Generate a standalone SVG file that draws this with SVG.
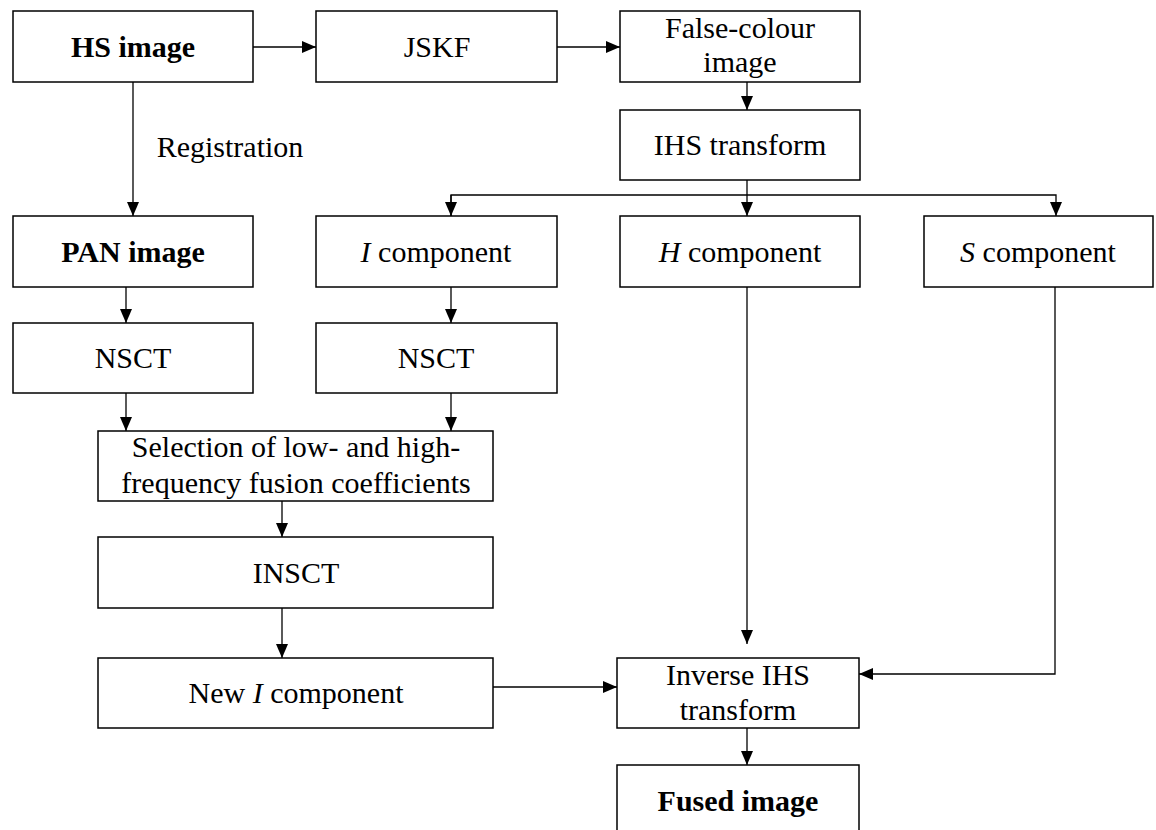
<svg xmlns="http://www.w3.org/2000/svg" width="1156" height="830" viewBox="0 0 1156 830">
<defs>
<marker id="ah" markerWidth="14" markerHeight="12" refX="14" refY="6" orient="auto" markerUnits="userSpaceOnUse">
<path d="M0,0 L14,6 L0,12 Z" fill="#000"/>
</marker>
<style>
.box{fill:#fff;stroke:#000;stroke-width:1.5}
.t{font-family:"Liberation Serif","Times New Roman",serif;font-size:30px;fill:#000;text-anchor:middle}
.b{font-weight:bold}
.c{fill:none;stroke:#000;stroke-width:1.3}
</style>
</defs>
<rect width="1156" height="830" fill="#fff"/>
<g id="connectors">
<line class="c" x1="253" y1="47" x2="316" y2="47" marker-end="url(#ah)"/>
<line class="c" x1="557" y1="47" x2="620" y2="47" marker-end="url(#ah)"/>
<line class="c" x1="747" y1="82" x2="747" y2="110" marker-end="url(#ah)"/>
<line class="c" x1="133" y1="82" x2="133" y2="216" marker-end="url(#ah)" stroke="#666"/>
<text class="t" x="230" y="157">Registration</text>
<line class="c" x1="747" y1="180" x2="747" y2="195"/>
<polyline class="c" points="451,216 451,195 1056,195 1056,216" marker-end="url(#ah)"/>
<line class="c" x1="451" y1="195" x2="451" y2="216" marker-end="url(#ah)"/>
<line class="c" x1="747" y1="195" x2="747" y2="216" marker-end="url(#ah)"/>
<line class="c" x1="126" y1="287" x2="126" y2="323" marker-end="url(#ah)"/>
<line class="c" x1="451" y1="287" x2="451" y2="323" marker-end="url(#ah)"/>
<line class="c" x1="126" y1="393" x2="126" y2="431" marker-end="url(#ah)"/>
<line class="c" x1="451" y1="393" x2="451" y2="431" marker-end="url(#ah)"/>
<line class="c" x1="282" y1="501" x2="282" y2="537" marker-end="url(#ah)"/>
<line class="c" x1="282" y1="608" x2="282" y2="658" marker-end="url(#ah)"/>
<line class="c" x1="747" y1="287" x2="747" y2="644" marker-end="url(#ah)"/>
<polyline class="c" points="1055,287 1055,674 859,674" marker-end="url(#ah)"/>
<line class="c" x1="493" y1="687" x2="617" y2="687" marker-end="url(#ah)"/>
<line class="c" x1="747" y1="728" x2="747" y2="765" marker-end="url(#ah)"/>
</g>
<g id="hs"><rect class="box" x="13" y="11" width="240" height="71"/><text class="t b" x="133" y="57">HS image</text></g>
<g id="jskf"><rect class="box" x="316" y="11" width="241" height="71"/><text class="t" x="437" y="57">JSKF</text></g>
<g id="falsecolour"><rect class="box" x="620" y="11" width="240" height="71"/><text class="t" x="740" y="38">False-colour</text><text class="t" x="740" y="72">image</text></g>
<g id="ihs"><rect class="box" x="620" y="110" width="240" height="70"/><text class="t" x="740" y="155">IHS transform</text></g>
<g id="pan"><rect class="box" x="13" y="216" width="240" height="71"/><text class="t b" x="133" y="262">PAN image</text></g>
<g id="icomp"><rect class="box" x="316" y="216" width="241" height="71"/><text class="t" x="436" y="262"><tspan font-style="italic">I</tspan> component</text></g>
<g id="hcomp"><rect class="box" x="620" y="216" width="240" height="71"/><text class="t" x="740" y="262"><tspan font-style="italic">H</tspan> component</text></g>
<g id="scomp"><rect class="box" x="924" y="216" width="229" height="71"/><text class="t" x="1038" y="262"><tspan font-style="italic">S</tspan> component</text></g>
<g id="nsct1"><rect class="box" x="13" y="323" width="240" height="70"/><text class="t" x="133" y="368">NSCT</text></g>
<g id="nsct2"><rect class="box" x="316" y="323" width="241" height="70"/><text class="t" x="436" y="368">NSCT</text></g>
<g id="selection"><rect class="box" x="98" y="431" width="395" height="70"/><text class="t" x="296" y="457">Selection of low- and high-</text><text class="t" x="296" y="493">frequency fusion coefficients</text></g>
<g id="insct"><rect class="box" x="98" y="537" width="395" height="71"/><text class="t" x="296" y="583">INSCT</text></g>
<g id="newi"><rect class="box" x="98" y="658" width="395" height="70"/><text class="t" x="296" y="703">New <tspan font-style="italic">I</tspan> component</text></g>
<g id="inverse"><rect class="box" x="617" y="658" width="242" height="70"/><text class="t" x="738" y="685">Inverse IHS</text><text class="t" x="738" y="720">transform</text></g>
<g id="fused"><rect class="box" x="617" y="765" width="242" height="72"/><text class="t b" x="738" y="811">Fused image</text></g>
</svg>
